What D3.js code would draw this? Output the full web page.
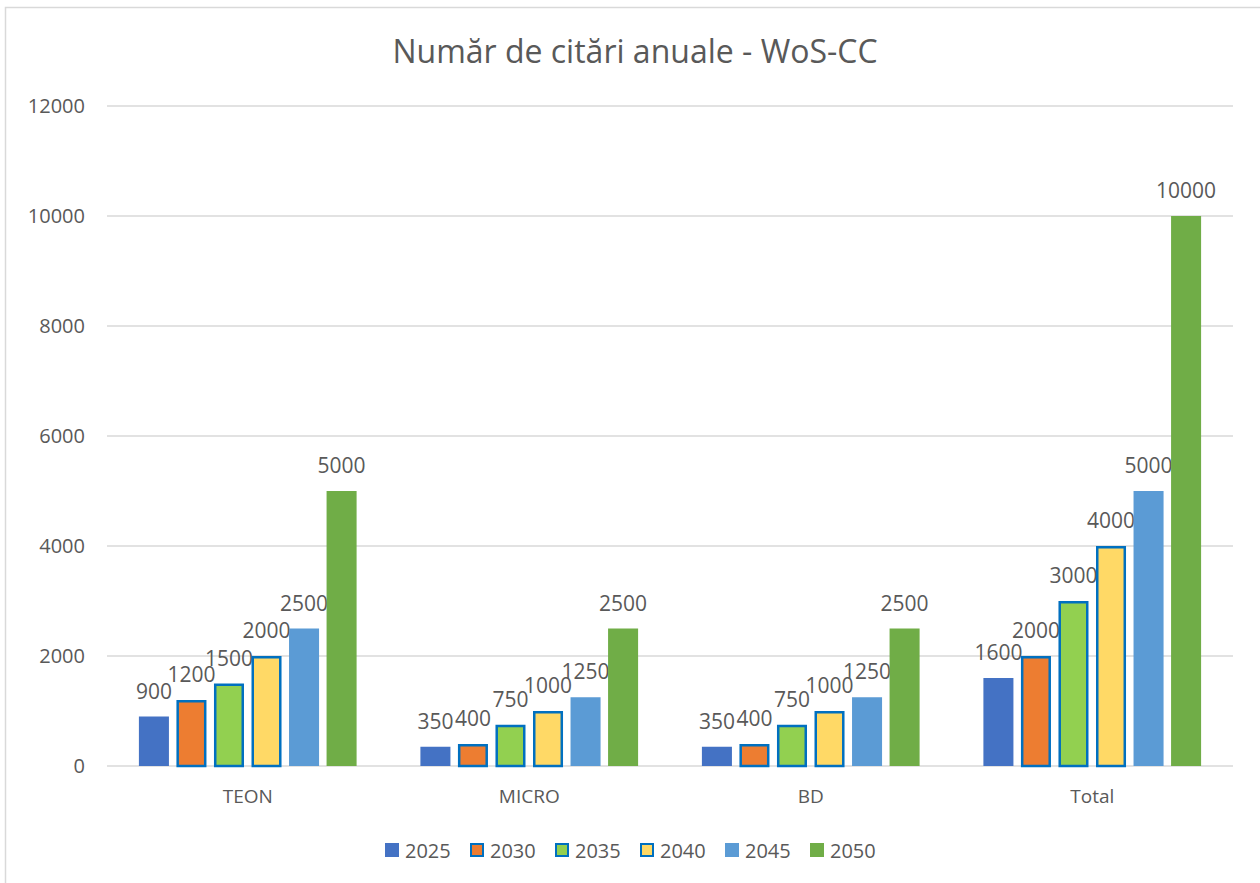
<!DOCTYPE html>
<html>
<head>
<meta charset="utf-8">
<script src="https://cdn.jsdelivr.net/npm/d3@7"></script>
<style>
  body { margin: 0; background: #fff; }
  text { font-family: "Open Sans", sans-serif; fill: #595959; }
</style>
</head>
<body>
<div id="holder"></div>
<script>
const w = 1260;
const h = 883;

// Data
const categories = ["TEON", "MICRO", "BD", "Total"];
const years = ["2025", "2030", "2035", "2040", "2045", "2050"];
const v2025 = [900, 350, 350, 1600];
const v2030 = [1200, 400, 400, 2000];
const v2035 = [1500, 750, 750, 3000];
const v2040 = [2000, 1000, 1000, 4000];
const v2045 = [2500, 1250, 1250, 5000];
const v2050 = [5000, 2500, 2500, 10000];
const yTicks = [0, 2000, 4000, 6000, 8000, 10000, 12000];

const seriesValues = [v2025, v2030, v2035, v2040, v2045, v2050];

const colors = ["#4472C4", "#ED7D31", "#92D050", "#FFD966", "#5B9BD5", "#70AD47"];
const outlined = [false, true, true, true, false, false];

const margin = { left: 107, right: 27, top: 106, bottom: 117 };

const svg = d3.select("#holder")
    .append("svg")
    .attr("width", w)
    .attr("height", h);

// chart border
svg.append("rect")
    .attr("x", 5.5).attr("y", 7.5)
    .attr("width", w + 10).attr("height", h)
    .attr("fill", "none")
    .attr("stroke", "#d9d9d9")
    .attr("stroke-width", 1.5);

const x = d3.scaleBand()
    .domain(categories)
    .range([margin.left, w - margin.right]);

const xInner = d3.scaleBand()
    .domain(years)
    .range([0, x.bandwidth()])
    .paddingInner(0.2)
    .paddingOuter(0.85);

const y = d3.scaleLinear()
    .domain([0, 12000])
    .range([h - margin.bottom, margin.top]);

// gridlines
svg.append("g")
    .selectAll("line")
    .data(yTicks)
    .join("line")
    .attr("x1", margin.left)
    .attr("x2", w - margin.right)
    .attr("y1", d => y(d))
    .attr("y2", d => y(d))
    .attr("stroke", "#d9d9d9")
    .attr("stroke-width", 1.5);

// y labels
const yAxis = d3.axisLeft(y).tickValues(yTicks).tickFormat(d3.format("d")).tickSize(0).tickPadding(22);
svg.append("g")
    .attr("transform", `translate(${margin.left},0)`)
    .call(yAxis)
    .call(g => g.select(".domain").remove())
    .selectAll("text")
    .attr("font-size", 20)
    .attr("font-family", "'Open Sans', sans-serif")
    .attr("fill", "#595959");

// x labels
const xAxis = d3.axisBottom(x).tickSize(0).tickPadding(24);
svg.append("g")
    .attr("transform", `translate(0,${h - margin.bottom})`)
    .call(xAxis)
    .call(g => g.select(".domain").remove())
    .selectAll("text")
    .attr("font-size", 19)
    .attr("font-family", "'Open Sans', sans-serif")
    .attr("fill", "#595959");

// bars
years.forEach((yr, i) => {
    const g = svg.append("g");
    const vals = seriesValues[i];
    g.selectAll("rect")
        .data(categories)
        .join("rect")
        .attr("x", (c) => x(c) + xInner(yr) + (outlined[i] ? 1.25 : 0))
        .attr("y", (c, j) => y(vals[j]) + (outlined[i] ? 1.25 : 0))
        .attr("width", xInner.bandwidth() - (outlined[i] ? 2.5 : 0))
        .attr("height", (c, j) => y(0) - y(vals[j]) - (outlined[i] ? 1.25 : 0))
        .attr("fill", colors[i])
        .attr("stroke", outlined[i] ? "#0070C0" : "none")
        .attr("stroke-width", 2.5);

    g.selectAll("text")
        .data(categories)
        .join("text")
        .attr("x", (c) => x(c) + xInner(yr) + xInner.bandwidth() / 2)
        .attr("y", (c, j) => y(vals[j]) - 18)
        .attr("text-anchor", "middle")
        .attr("font-size", 21)
        .text((c, j) => vals[j]);
});

// title
svg.append("text")
    .attr("x", 635)
    .attr("y", 63)
    .attr("text-anchor", "middle")
    .attr("font-size", 32)
    .text("Număr de citări anuale - WoS-CC");

// legend
const legend = svg.append("g")
    .selectAll("g")
    .data(years)
    .join("g")
    .attr("transform", (d, i) => `translate(${385 + i * 85},843)`);

legend.append("rect")
    .attr("x", (d, i) => outlined[i] ? 1 : 0)
    .attr("y", (d, i) => outlined[i] ? 1 : 0)
    .attr("width", (d, i) => outlined[i] ? 12 : 14)
    .attr("height", (d, i) => outlined[i] ? 12 : 14)
    .attr("fill", (d, i) => colors[i])
    .attr("stroke", (d, i) => outlined[i] ? "#0070C0" : "none")
    .attr("stroke-width", 2);

legend.append("text")
    .attr("x", 20)
    .attr("y", 14.5)
    .attr("font-size", 20)
    .text(d => d);
</script>
</body>
</html>
